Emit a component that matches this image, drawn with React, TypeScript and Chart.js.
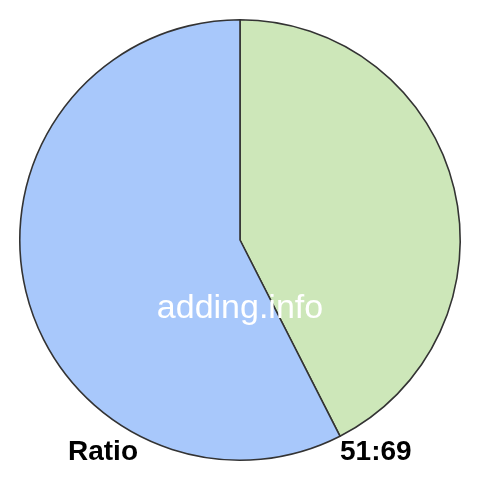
import { useEffect, useRef } from "react"
import { Chart, registerables } from "chart.js"

Chart.register(...registerables)

const sliceLabels = ["51", "69"]
const sliceValues = [51, 69]
const sliceColors = ["#cde7b9", "#a8c8fb"]
const watermark = "adding.info"
const captionLeft = "Ratio"

const overlayPlugin = {
  id: "overlay",
  afterDraw(chart: Chart) {
    const ctx = chart.ctx
    ctx.save()
    ctx.fillStyle = "#ffffff"
    ctx.font = "34px Arial, 'Liberation Sans', sans-serif"
    ctx.textAlign = "center"
    ctx.textBaseline = "alphabetic"
    ctx.fillText(watermark, 240, 318)

    ctx.fillStyle = "#000000"
    ctx.font = "bold 28px Arial, 'Liberation Sans', sans-serif"
    ctx.textAlign = "left"
    ctx.fillText(captionLeft, 68, 460)
    ctx.fillText(sliceValues.join(":"), 340, 460)
    ctx.restore()
  },
}

export default function App() {
  const chartRef = useRef<HTMLCanvasElement>(null)
  const chartInstance = useRef<Chart | null>(null)

  useEffect(() => {
    document.body.style.margin = "0"
    if (chartRef.current) {
      if (chartInstance.current) {
        chartInstance.current.destroy()
      }
      const ctx = chartRef.current.getContext("2d")
      if (ctx) {
        chartInstance.current = new Chart(ctx, {
          type: "pie",
          data: {
            labels: sliceLabels,
            datasets: [
              {
                data: sliceValues,
                backgroundColor: sliceColors,
                borderColor: "#333333",
                borderWidth: 1.6,
              },
            ],
          },
          options: {
            responsive: false,
            animation: false,
            layout: { padding: 19 },
            plugins: {
              legend: { display: false },
              tooltip: { enabled: false },
            },
          },
          plugins: [overlayPlugin],
        })
      }
    }
    return () => {
      if (chartInstance.current) {
        chartInstance.current.destroy()
        chartInstance.current = null
      }
    }
  }, [])

  return (
    <div style={{ width: 480, height: 480, background: "#ffffff" }}>
      <canvas ref={chartRef} width={480} height={480} />
    </div>
  )
}
